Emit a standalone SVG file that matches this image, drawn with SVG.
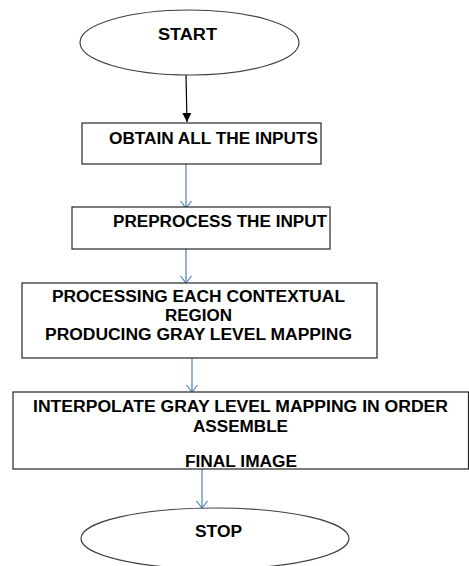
<svg xmlns="http://www.w3.org/2000/svg" width="469" height="566" viewBox="0 0 469 566">
  <style>
    .term { fill: #ffffff; stroke: #404040; stroke-width: 1.2; }
    .box { fill: #ffffff; stroke: #262626; stroke-width: 1.2; }
    .lbl { font-family: "Liberation Sans", Arial, sans-serif; font-weight: bold; font-size: 16px; fill: #000000; }
    .flow { fill: none; stroke: #4f81bd; stroke-width: 1.2; }
    .flow-dark { fill: none; stroke: #000000; stroke-width: 1.2; }
  </style>
  <defs>
    <marker id="open-arrow" markerWidth="14" markerHeight="14" refX="8" refY="6" orient="auto" markerUnits="userSpaceOnUse">
      <path d="M1,0.5 L8,6 L1,11.5" fill="none" stroke="#4f81bd" stroke-width="1.2"/>
    </marker>
    <marker id="solid-arrow" markerWidth="12" markerHeight="10" refX="9" refY="4.5" orient="auto" markerUnits="userSpaceOnUse">
      <path d="M0,0 L9,4.5 L0,9 Z" fill="#000000"/>
    </marker>
  </defs>

  <rect width="469" height="566" fill="#ffffff"/>

  <g id="connectors">
    <line class="flow-dark" x1="186" y1="75" x2="187" y2="122" marker-end="url(#solid-arrow)"/>
    <line class="flow" x1="186" y1="164" x2="186" y2="208" marker-end="url(#open-arrow)"/>
    <line class="flow" x1="186" y1="249" x2="186" y2="283" marker-end="url(#open-arrow)"/>
    <line class="flow" x1="192" y1="358" x2="192" y2="392" marker-end="url(#open-arrow)"/>
    <line class="flow" x1="202" y1="469" x2="202" y2="508" marker-end="url(#open-arrow)"/>
  </g>

  <g id="start">
    <ellipse class="term" cx="189.5" cy="42.5" rx="109.5" ry="32.5"/>
    <text class="lbl" x="158" y="40" textLength="59" lengthAdjust="spacingAndGlyphs">START</text>
  </g>

  <g id="obtain-inputs">
    <rect class="box" x="82" y="123" width="239" height="41"/>
    <text class="lbl" x="109" y="144" textLength="209" lengthAdjust="spacingAndGlyphs">OBTAIN ALL THE INPUTS</text>
  </g>

  <g id="preprocess">
    <rect class="box" x="72" y="207" width="258" height="42"/>
    <text class="lbl" x="113" y="227" textLength="214" lengthAdjust="spacingAndGlyphs">PREPROCESS THE INPUT</text>
  </g>

  <g id="process-regions">
    <rect class="box" x="22" y="283" width="355" height="75"/>
    <text class="lbl" x="52" y="302" textLength="293" lengthAdjust="spacingAndGlyphs">PROCESSING EACH CONTEXTUAL</text>
    <text class="lbl" x="165" y="321" textLength="67" lengthAdjust="spacingAndGlyphs">REGION</text>
    <text class="lbl" x="45" y="340" textLength="307" lengthAdjust="spacingAndGlyphs">PRODUCING GRAY LEVEL MAPPING</text>
  </g>

  <g id="interpolate">
    <rect class="box" x="13" y="392" width="455.5" height="77"/>
    <text class="lbl" x="33" y="412" textLength="415" lengthAdjust="spacingAndGlyphs">INTERPOLATE GRAY LEVEL MAPPING IN ORDER</text>
    <text class="lbl" x="193" y="432" textLength="95" lengthAdjust="spacingAndGlyphs">ASSEMBLE</text>
    <text class="lbl" x="185" y="467" textLength="112" lengthAdjust="spacingAndGlyphs">FINAL IMAGE</text>
  </g>

  <g id="stop">
    <ellipse class="term" cx="215" cy="538.5" rx="134" ry="30.5"/>
    <text class="lbl" x="195" y="537" textLength="47" lengthAdjust="spacingAndGlyphs">STOP</text>
  </g>
</svg>
